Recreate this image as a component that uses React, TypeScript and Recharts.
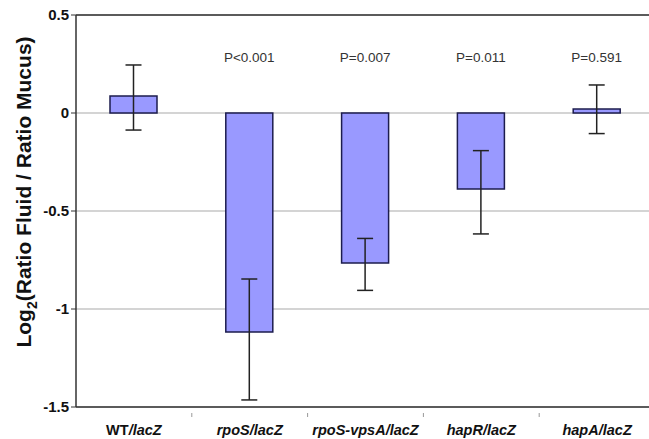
import React from "react";
import {
  BarChart,
  Bar,
  XAxis,
  YAxis,
  CartesianGrid,
  ErrorBar,
  ReferenceLine,
  LabelList,
} from "recharts";

const strains = ["WT/lacZ", "rpoS/lacZ", "rpoS-vpsA/lacZ", "hapR/lacZ", "hapA/lacZ"];
const log2Ratio = [0.087, -1.117, -0.765, -0.388, 0.02];
const errLower = [0.174, 0.347, 0.14, 0.229, 0.125];
const errUpper = [0.158, 0.27, 0.125, 0.196, 0.123];
const pValues = ["", "P<0.001", "P=0.007", "P=0.011", "P=0.591"];
const yTicks = [-1.5, -1, -0.5, 0, 0.5];

const data = strains.map((s, i) => ({
  name: s,
  value: log2Ratio[i],
  err: [errLower[i], errUpper[i]],
  p: pValues[i],
}));

const W = 655;
const H = 439;
const M = { top: 15, right: 0, bottom: 0, left: 0 };
const YW = 76;
const XH = 32;
const plotW = W - M.left - M.right - YW;
const band = plotW / strains.length;
const FONT = "'Liberation Sans', Arial, sans-serif";

const XTick = (props: any) => {
  const { x, y, payload, index } = props;
  const label: string = payload.value;
  const slash = label.indexOf("/");
  const first = label.slice(0, slash);
  const rest = label.slice(slash + 1);
  const firstItalic = first !== "WT";
  return (
    <g>
      {index > 0 && (
        <line x1={x - band / 2} x2={x - band / 2} y1={y - 2} y2={y + 2} stroke="#999" />
      )}
      <text
        x={x}
        y={y + 20}
        textAnchor="middle"
        fontFamily={FONT}
        fontWeight="bold"
        fontSize={14.5}
        fill="#111"
      >
        <tspan fontStyle={firstItalic ? "italic" : "normal"}>{first}</tspan>
        <tspan fontStyle="italic">/</tspan>
        <tspan fontStyle="italic">{rest}</tspan>
      </text>
    </g>
  );
};

const PLabel = (props: any) => {
  const { x, width, value } = props;
  if (!value) return null;
  return (
    <text
      x={x + width / 2}
      y={M.top + 47}
      textAnchor="middle"
      fontFamily={FONT}
      fontSize={13.5}
      fill="#333"
    >
      {value}
    </text>
  );
};

const YLabel = () => (
  <text
    transform={`translate(31, 192) rotate(-90)`}
    textAnchor="middle"
    fontFamily={FONT}
    fontWeight="bold"
    fontSize={21}
    fill="#111"
  >
    <tspan>Log</tspan>
    <tspan fontSize={14} dy={6}>2</tspan>
    <tspan dy={-6}>(Ratio Fluid / Ratio Mucus)</tspan>
  </text>
);

export default function App() {
  return (
    <div
      style={{
        position: "absolute",
        left: 0,
        top: 0,
        width: 649,
        height: 439,
        overflow: "hidden",
        background: "#fff",
      }}
    >
      <BarChart width={W} height={H} data={data} margin={M} barSize={47}>
        <CartesianGrid horizontal vertical={false} stroke="#aaa" strokeWidth={1.2} />
        <ReferenceLine y={0.5} stroke="#333" strokeWidth={1.5} />
        <XAxis
          dataKey="name"
          height={XH}
          tick={<XTick />}
          tickLine={false}
          axisLine={{ stroke: "#333", strokeWidth: 1.5 }}
          interval={0}
        />
        <YAxis
          width={YW}
          domain={[-1.5, 0.5]}
          ticks={yTicks}
          interval={0}
          tickSize={5}
          tickLine={{ stroke: "#333" }}
          axisLine={{ stroke: "#333", strokeWidth: 1.5 }}
          tick={{ fontFamily: FONT, fontWeight: "bold", fontSize: 15, fill: "#111" }}
          tickFormatter={(v: number) => String(v)}
          label={<YLabel />}
        />
        <Bar
          dataKey="value"
          fill="#9999ff"
          stroke="#1c1c4e"
          strokeWidth={1.5}
          isAnimationActive={false}
        >
          <ErrorBar dataKey="err" width={8} stroke="#222" strokeWidth={1.5} />
          <LabelList dataKey="p" content={<PLabel />} />
        </Bar>
      </BarChart>
    </div>
  );
}
